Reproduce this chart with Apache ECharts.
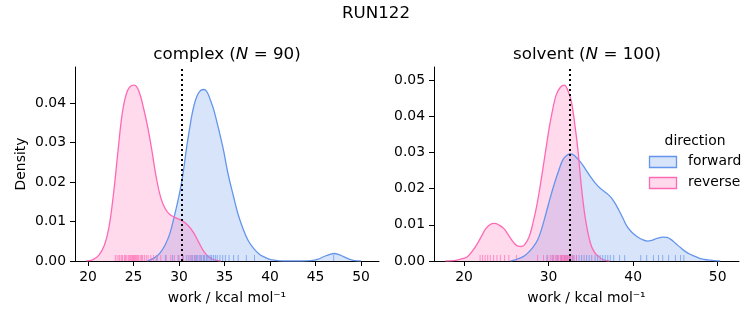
<!DOCTYPE html>
<html><head><meta charset="utf-8">
<script src="https://cdn.jsdelivr.net/npm/echarts@6/dist/echarts.min.js"></script>
<style>html,body{margin:0;padding:0;background:#fff}#c{width:753px;height:325px}</style>
</head><body><div id="c"></div>
<script>
// ---- data ----
const figTitle = 'RUN122';
const panelNames = ['complex', 'solvent'];
const panelN = [90, 100];
const directions = ['forward', 'reverse'];
const vlineX = [30.3, 32.45];

// complex: KDE curves
const cxRevX = [19.8,20.5,21.2,21.8,22.3,22.8,23.3,23.8,24.3,24.8,25.1,25.6,26.1,26.6,27.0,27.5,28.0,28.5,29.0,29.6,30.3,31.0,31.6,32.2,32.8,33.4,34.0,34.6];
const cxRevY = [0,0.0003,0.0015,0.0040,0.0085,0.0170,0.0280,0.0380,0.0430,0.0445,0.0446,0.0430,0.0388,0.0335,0.0283,0.0212,0.0160,0.0132,0.0118,0.0110,0.0103,0.0090,0.0072,0.0046,0.0022,0.0008,0.0002,0];
const cxFwdX = [26.5,27.3,27.9,28.5,29.0,29.5,30.0,30.4,30.85,31.3,31.6,32.0,32.4,32.75,33.1,33.5,33.8,34.3,34.9,35.4,36.0,36.5,37.1,37.6,38.2,38.8,39.3,39.9,40.5,41.5,43.5,44.5,45.3,46.0,46.6,47.05,47.5,48.1,48.7,49.3,50.0];
const cxFwdY = [0,0.0008,0.0020,0.0042,0.0070,0.0115,0.0165,0.0215,0.0290,0.0355,0.0390,0.0420,0.0433,0.0435,0.0428,0.0405,0.0385,0.0340,0.0280,0.0220,0.0163,0.0118,0.0078,0.0052,0.0032,0.0018,0.0011,0.0005,0.0002,0,0,0.0001,0.0005,0.0012,0.0017,0.0019,0.0017,0.0011,0.0005,0.0001,0];
// solvent: KDE curves
const svRevX = [17.8,18.8,19.6,20.4,21.0,21.6,22.1,22.6,23.1,23.56,24.1,24.7,25.3,25.9,26.4,26.8,27.2,27.7,28.1,28.5,28.9,29.3,29.7,30.1,30.5,30.9,31.4,31.86,32.3,32.7,33.2,33.5,33.8,34.1,34.4,34.95,35.4,35.8,36.5,37.2];
const svRevY = [0,0.0001,0.0005,0.0012,0.0028,0.0049,0.0070,0.0090,0.0101,0.0104,0.0100,0.0090,0.0070,0.0050,0.0041,0.0040,0.0046,0.0067,0.0100,0.0141,0.0192,0.0251,0.0312,0.0371,0.0420,0.0459,0.0480,0.0486,0.0470,0.0440,0.0360,0.0300,0.0224,0.0160,0.0110,0.0049,0.0025,0.0015,0.0003,0];
const svFwdX = [25.5,26.3,27.0,27.5,28.1,28.7,29.2,29.7,30.2,30.7,31.2,31.7,32.2,32.66,33.2,33.76,34.3,34.95,35.5,36.1,36.7,37.3,37.8,38.3,38.8,39.3,39.9,40.5,41.1,41.7,42.3,42.9,43.5,44.0,44.5,45.0,45.6,46.2,46.8,47.4,48.1,48.8,49.6,50.3];
const svFwdY = [0,0.0005,0.0012,0.0021,0.0036,0.0058,0.0090,0.0132,0.0175,0.0215,0.0250,0.0280,0.0293,0.0296,0.0288,0.0274,0.0256,0.0233,0.0216,0.0201,0.0190,0.0178,0.0162,0.0141,0.0118,0.0095,0.0078,0.0067,0.0059,0.0055,0.0058,0.0063,0.0066,0.0065,0.0059,0.0049,0.0037,0.0026,0.0018,0.0012,0.0006,0.0003,0.0001,0];

// rug samples (estimated)
const cxRevRug = [23.0,23.2,23.4,23.5,23.7,23.8,24.0,24.1,24.2,24.4,24.5,24.6,24.7,24.8,24.9,25.0,25.1,25.2,25.3,25.4,25.5,25.6,25.8,25.9,26.0,26.2,26.4,26.6,26.9,27.2,27.5,28.0,28.6,29.1,29.5,30.0,30.5,31.0,31.4,31.8,32.3];
const cxFwdRug = [27.6,28.5,29.3,29.9,30.4,30.8,31.1,31.3,31.5,31.7,31.9,32.0,32.2,32.4,32.5,32.7,32.8,33.0,33.1,33.3,33.5,33.6,33.8,34.0,34.2,34.5,34.8,35.1,35.5,36.0,36.5,37.4,38.3,47.0];
const svRevRug = [21.9,22.2,22.5,22.8,23.1,23.5,23.9,24.3,24.8,25.3,26.2,28.7,29.4,29.9,30.2,30.4,30.6,30.8,31.0,31.1,31.2,31.4,31.5,31.6,31.7,31.8,31.9,32.0,32.1,32.2,32.3,32.4,32.5,32.6,32.8,33.0,33.3];
const svFwdRug = [29.8,30.5,31.0,31.5,31.9,32.2,32.5,32.8,33.0,33.3,33.6,33.9,34.2,34.5,34.8,35.1,35.5,35.8,36.1,36.4,36.7,37.0,37.3,37.7,38.4,39.0,40.9,41.6,42.4,43.0,43.5,44.2,45.0,45.6,46.0];

// tick labels
const xTicksL = [20,25,30,35,40,45,50];
const xTicksR = [20,30,40,50];
const yTicksL = [0,0.01,0.02,0.03,0.04];
const yTicksR = [0,0.01,0.02,0.03,0.04,0.05];

// ---- chart ----
const FONT = 'DejaVu Sans';
const BLUE = '#6495ED', PINK = '#FF69B4';
const zip = (xs, ys) => xs.map((x, i) => [x, ys[i]]);

function kde(name, xi, yi, xs, ys, color) {
  return {
    type: 'line', name, xAxisIndex: xi, yAxisIndex: yi,
    data: zip(xs, ys), smooth: 0.4, showSymbol: false, symbol: 'none',
    lineStyle: { color, width: 1.3 }, itemStyle: { color },
    areaStyle: { color, opacity: 0.25 }, silent: true, z: 2
  };
}
function rug(xi, yi, xs, color) {
  return {
    type: 'scatter', xAxisIndex: xi, yAxisIndex: yi,
    data: xs.map(x => [x, 0]), symbol: 'rect', symbolSize: [1, 6], symbolOffset: [0, -3],
    itemStyle: { color, opacity: 0.7 }, silent: true, z: 3
  };
}
function vline(xi, yi, x) {
  return {
    type: 'line', xAxisIndex: xi, yAxisIndex: yi, data: [], silent: true,
    markLine: {
      symbol: ['none', 'none'], silent: true, label: { show: false },
      lineStyle: { color: '#000', type: [2, 3], width: 2 },
      data: [{ xAxis: x }], z: 5
    }
  };
}
function xAxis(gi, min, max, ticks) {
  return {
    type: 'value', gridIndex: gi, min, max,
    name: 'work / kcal mol\u207B\u00B9', nameLocation: 'middle', nameGap: 30,
    nameTextStyle: { fontFamily: FONT, fontSize: 13.9, color: '#000' },
    axisLine: { show: true, lineStyle: { color: '#000', width: 1 } },
    axisTick: { show: true, length: 5, lineStyle: { color: '#000' }, customValues: ticks },
    axisLabel: { fontFamily: FONT, fontSize: 13.9, color: '#000', margin: 9, customValues: ticks },
    splitLine: { show: false }
  };
}
function yAxis(gi, max, ticks, name) {
  return {
    type: 'value', gridIndex: gi, min: 0, max,
    name: name || '', nameLocation: 'middle', nameGap: 47, nameRotate: 90,
    nameTextStyle: { fontFamily: FONT, fontSize: 13.9, color: '#000' },
    axisLine: { show: true, lineStyle: { color: '#000', width: 1 } },
    axisTick: { show: true, length: 5, lineStyle: { color: '#000' }, customValues: ticks },
    axisLabel: { fontFamily: FONT, fontSize: 13.9, color: '#000', margin: 9, customValues: ticks,
      formatter: v => v.toFixed(2) },
    splitLine: { show: false }
  };
}
function panelTitle(i, cx) {
  return {
    text: '{a|' + panelNames[i] + ' (}{i|N}{a| = ' + panelN[i] + ')}',
    left: cx, top: 46, textAlign: 'center', padding: 0,
    textStyle: { fontWeight: 'normal', rich: {
      a: { fontFamily: FONT, fontSize: 16.7, color: '#000', fontWeight: 'normal' },
      i: { fontFamily: FONT, fontSize: 16.7, color: '#000', fontStyle: 'italic', fontWeight: 'normal' }
    } }
  };
}

const chart = echarts.init(document.getElementById('c'), null, { renderer: 'canvas' });
chart.setOption({
  animation: false,
  backgroundColor: '#fff',
  title: [
    { text: figTitle, left: 376, top: 5, textAlign: 'center', padding: 0,
      textStyle: { fontFamily: FONT, fontSize: 16.7, fontWeight: 'normal', color: '#000' } },
    panelTitle(0, 227),
    panelTitle(1, 587)
  ],
  grid: [
    { left: 75, right: 374, top: 67, bottom: 64 },
    { left: 434, right: 14, top: 67, bottom: 64 }
  ],
  xAxis: [xAxis(0, 18.57, 51.98, xTicksL), xAxis(1, 16.45, 52.52, xTicksR)],
  yAxis: [yAxis(0, 0.0492, yTicksL, 'Density'), yAxis(1, 0.0536, yTicksR)],
  series: [
    kde(directions[0], 0, 0, cxFwdX, cxFwdY, BLUE),
    kde(directions[1], 0, 0, cxRevX, cxRevY, PINK),
    rug(0, 0, cxFwdRug, BLUE),
    rug(0, 0, cxRevRug, PINK),
    vline(0, 0, vlineX[0]),
    kde(directions[0], 1, 1, svFwdX, svFwdY, BLUE),
    kde(directions[1], 1, 1, svRevX, svRevY, PINK),
    rug(1, 1, svFwdRug, BLUE),
    rug(1, 1, svRevRug, PINK),
    vline(1, 1, vlineX[1])
  ],
  graphic: [
    { type: 'text', x: 695, y: 141, style: { text: 'direction', fontFamily: FONT, fontSize: 13.9, fill: '#000', align: 'center', verticalAlign: 'middle' } },
    { type: 'rect', shape: { x: 649.5, y: 156.5, width: 27, height: 11 }, style: { fill: 'rgba(100,149,237,0.25)', stroke: BLUE, lineWidth: 1.3 } },
    { type: 'text', x: 688, y: 161.5, style: { text: directions[0], fontFamily: FONT, fontSize: 13.9, fill: '#000', align: 'left', verticalAlign: 'middle' } },
    { type: 'rect', shape: { x: 649.5, y: 177.5, width: 27, height: 11 }, style: { fill: 'rgba(255,105,180,0.25)', stroke: PINK, lineWidth: 1.3 } },
    { type: 'text', x: 688, y: 182.5, style: { text: directions[1], fontFamily: FONT, fontSize: 13.9, fill: '#000', align: 'left', verticalAlign: 'middle' } }
  ]
});
</script></body></html>
